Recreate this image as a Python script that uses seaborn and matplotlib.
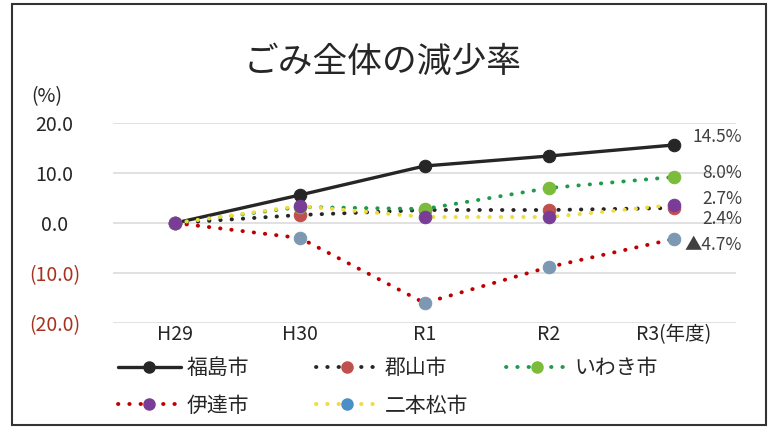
import matplotlib
matplotlib.use('Agg')
import matplotlib.pyplot as plt
import seaborn as sns
from matplotlib.lines import Line2D
from matplotlib.patches import Rectangle

# datos
years = ['H29', 'H30', 'R1', 'R2', 'R3(年度)']
fukushima = [0, 5.6, 11.4, 13.4, 15.6]
koriyama = [0, 1.6, 2.6, 2.6, 3.0]
iwaki = [0, 3.2, 2.8, 7.0, 9.2]
date_city = [0, -3.0, -16.0, -8.8, -3.2]
nihonmatsu = [0, 3.4, 1.2, 1.2, 3.6]

city_names = ['福島市', '郡山市', 'いわき市', '伊達市', '二本松市']
end_labels = ['14.5%', '8.0%', '2.7%', '2.4%', '▲4.7%']
end_label_y = [17.2, 10.0, 4.9, 0.8, -4.4]
y_ticks = [20, 10, 0, -10, -20]
y_tick_labels = ['20.0', '10.0', '0.0', '(10.0)', '(20.0)']

sns.set_style('white')
plt.rcParams['font.family'] = ['Noto Sans CJK JP', 'DejaVu Sans']

fig = plt.figure(figsize=(7.73, 4.29), dpi=100)
ax = fig.add_axes([113 / 773, 1 - 323 / 429, (736 - 113) / 773, 200 / 429])

x = list(range(len(years)))
dots = dict(linestyle=(0, (0.1, 2.8)), dash_capstyle='round', linewidth=2.8)

# (valores, color de línea, color de marcador en el gráfico, color en la leyenda, estilo)
styles = [
    (fukushima, '#262626', '#262626', '#262626', dict(linestyle='-', linewidth=2.4)),
    (koriyama, '#262626', '#c0504d', '#c0504d', dots),
    (iwaki, '#1f9a4b', '#7dbb3c', '#7dbb3c', dots),
    (date_city, '#c00000', '#7d98b3', '#7a3d97', dots),
    (nihonmatsu, '#f0dc3c', '#7a3d97', '#4a90c8', dots),
]
for vals, lc, mc, _, ls in styles:
    sns.lineplot(x=x, y=vals, ax=ax, color=lc, marker='o', markersize=9,
                 markerfacecolor=mc, markeredgecolor=mc, **ls)

ax.set_xlim(-0.5, 4.5)
ax.set_ylim(-20, 20)
ax.set_yticks(y_ticks)
ax.set_yticklabels(y_tick_labels, fontsize=14, ha='center')
for t, v in zip(ax.get_yticklabels(), y_ticks):
    t.set_color('#a8321f' if v < 0 else '#262626')
ax.set_xticks(x)
ax.set_xticklabels(years, fontsize=14, color='#262626')
ax.tick_params(axis='y', pad=42, length=0)
ax.tick_params(axis='x', pad=1, length=0)
ax.grid(axis='y', color='#dcdcdc', linewidth=1.2)
for s in ax.spines.values():
    s.set_visible(False)
ax.set_xlabel('')
ax.set_ylabel('')

for lab, yy in zip(end_labels, end_label_y):
    ax.text(4.55, yy, lab, ha='right', va='center', fontsize=12.5,
            color='#404040', clip_on=False)

fig.text(0.495, 1 - 62 / 429, 'ごみ全体の減少率', ha='center', va='center',
         fontsize=25, color='#262626')
fig.text(47 / 773, 1 - 97 / 429, '(%)', ha='center', va='center',
         fontsize=14, color='#262626')

# leyenda en tres columnas colocadas a mano
handles = []
for vals, lc, _, lmc, ls in styles:
    handles.append(Line2D([], [], color=lc, marker='o', markersize=8,
                          markerfacecolor=lmc, markeredgecolor=lmc, **ls))
leg_handles = [[handles[0], handles[3]], [handles[1], handles[4]], [handles[2]]]
leg_labels = [[city_names[0], city_names[3]], [city_names[1], city_names[4]], [city_names[2]]]
leg_x = [118, 316, 506]
for hs, ls_, lx in zip(leg_handles, leg_labels, leg_x):
    lg = fig.legend(hs, ls_, loc='upper left', bbox_to_anchor=(lx / 773, 1 - 357 / 429),
                    frameon=False, fontsize=15, handlelength=3.0, handletextpad=0.3,
                    labelspacing=0.75, borderpad=0, borderaxespad=0)
    for t in lg.get_texts():
        t.set_color('#262626')

fig.patches.append(Rectangle((12 / 773, 4 / 429), 754 / 773, 421 / 429,
                             transform=fig.transFigure, fill=False,
                             edgecolor='#333333', linewidth=1.5))

fig.savefig('out.png', dpi=100)
